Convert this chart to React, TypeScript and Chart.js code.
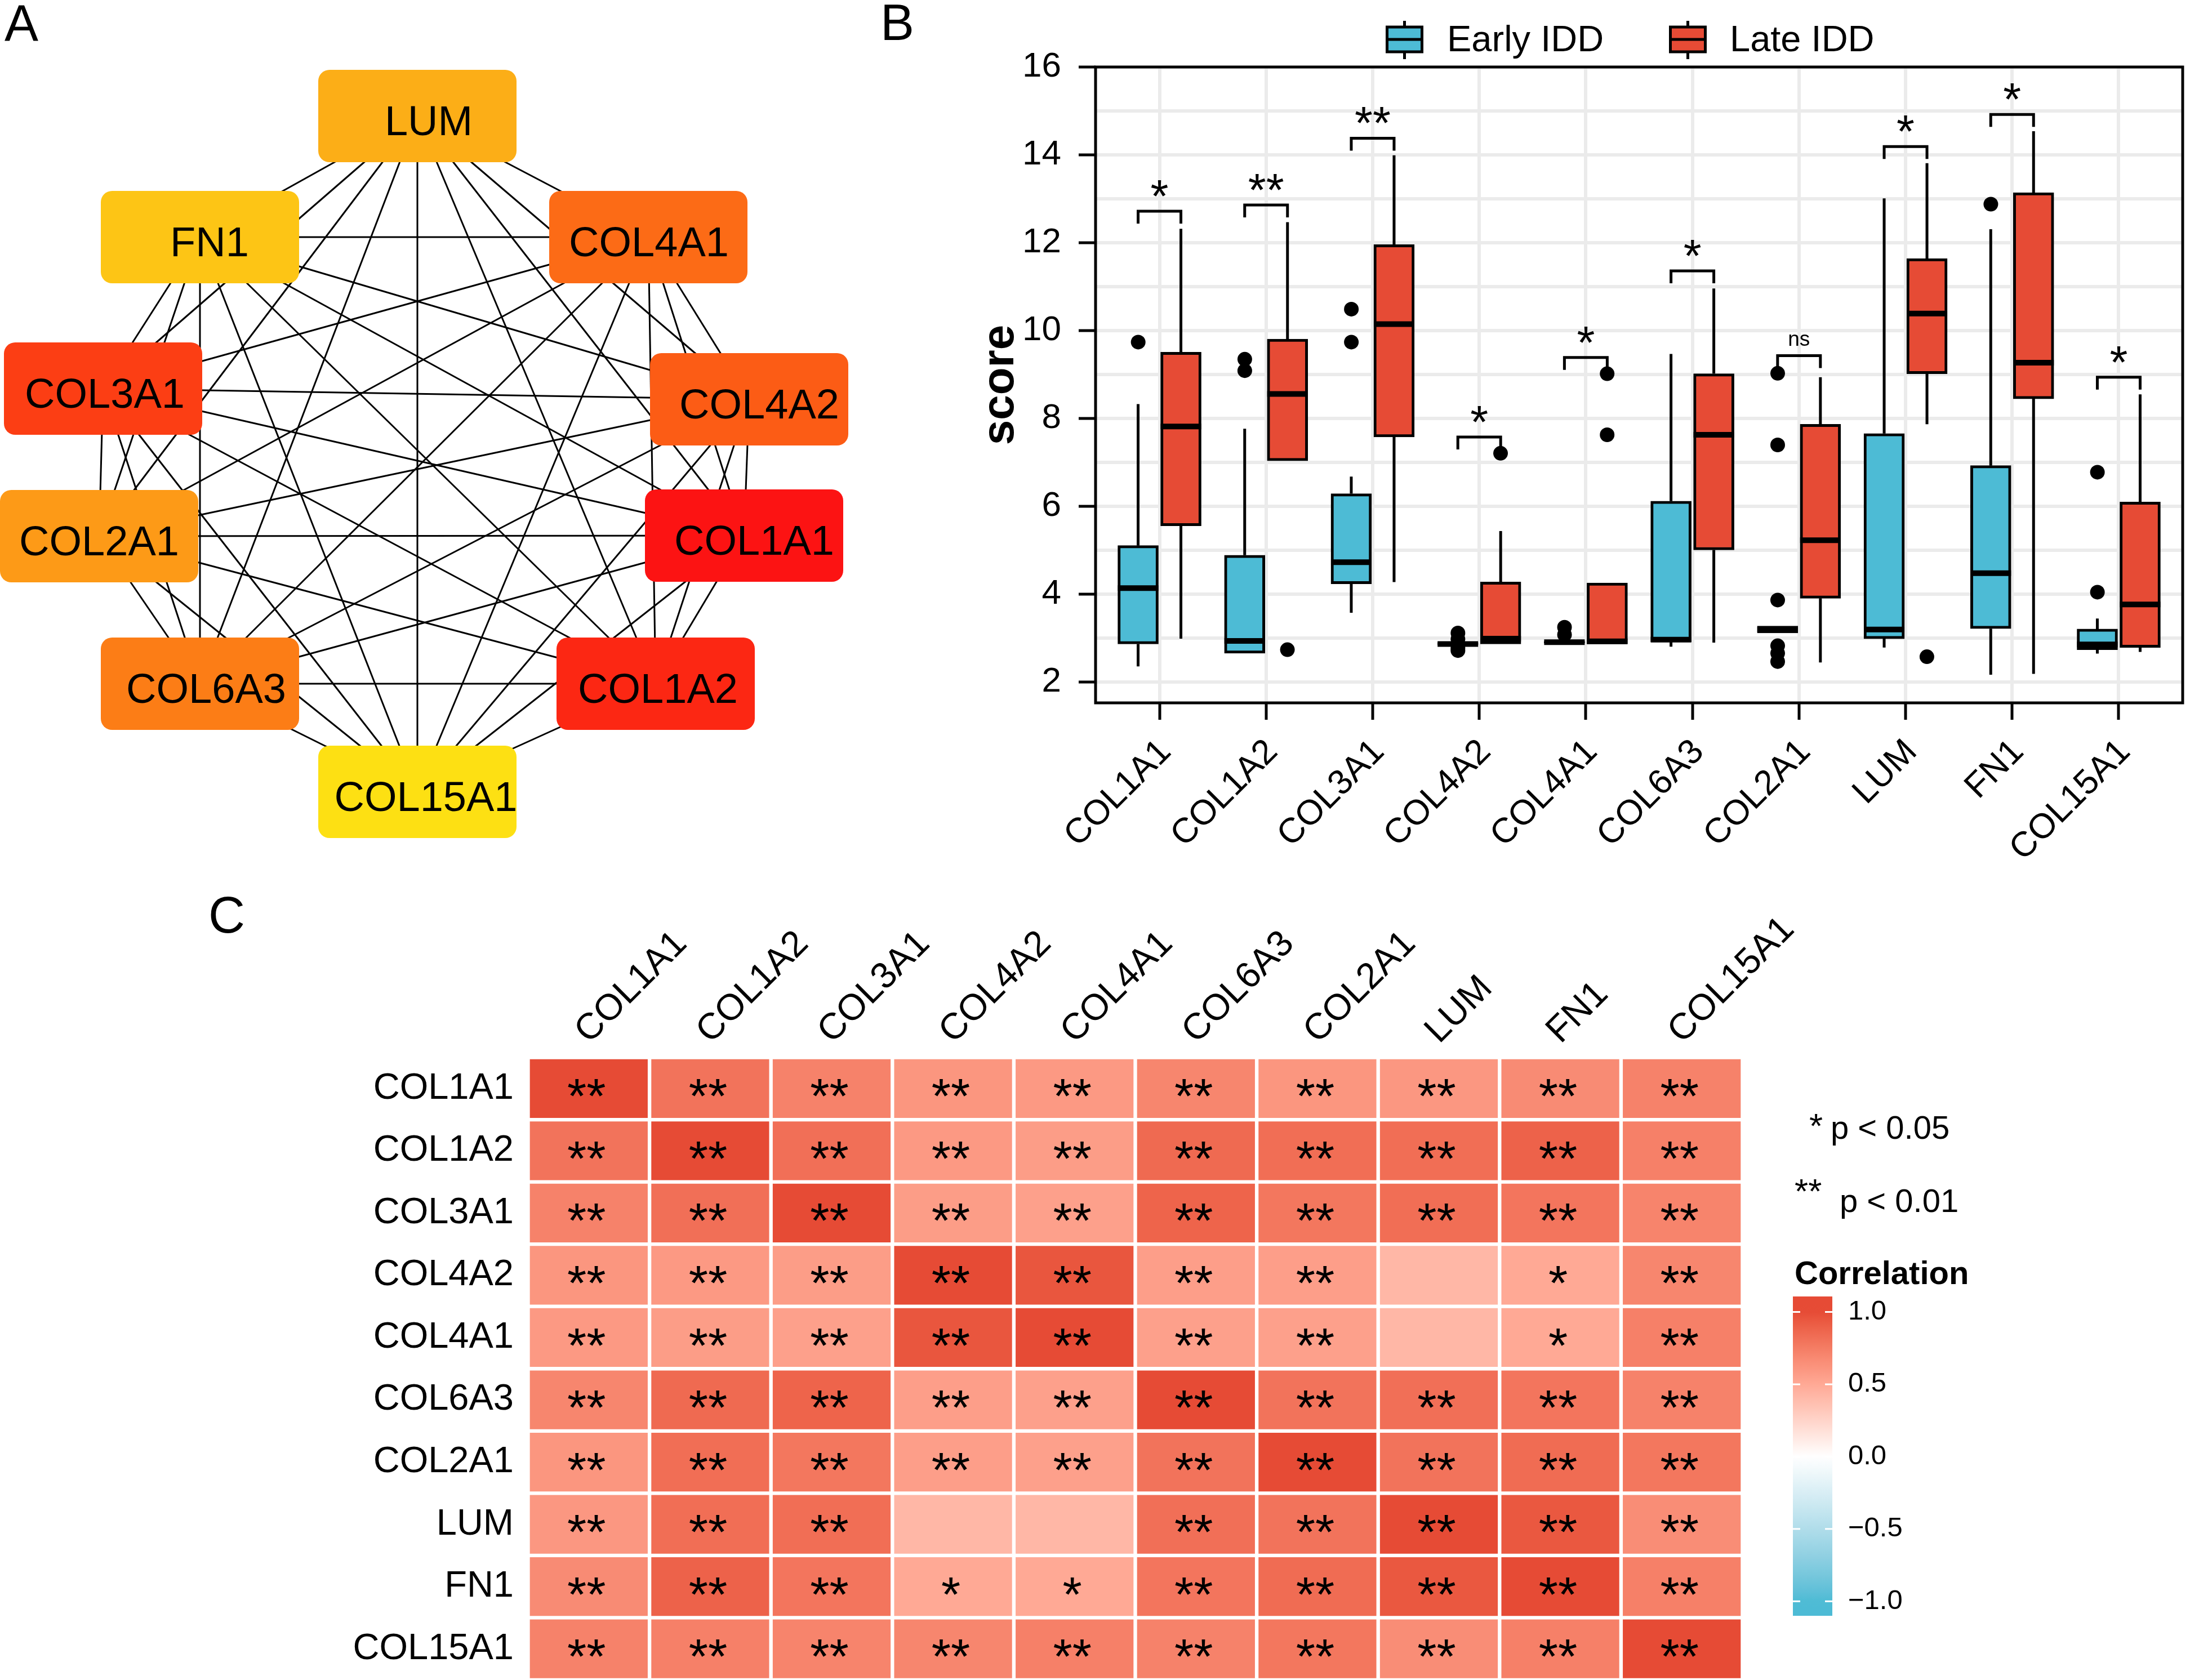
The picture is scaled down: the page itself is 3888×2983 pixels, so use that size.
import React, { useEffect, useRef } from "react";
import { Chart, registerables } from "chart.js";

Chart.register(...registerables);

const FONT = '"Liberation Sans", Arial, Helvetica, sans-serif';
const f = (size: number, bold = false) => `${bold ? "bold " : ""}${size}px ${FONT}`;

/* ================= Panel A : interaction network ================= */
const nodeNames = ["LUM", "FN1", "COL4A1", "COL3A1", "COL4A2", "COL2A1", "COL1A1", "COL6A3", "COL1A2", "COL15A1"];
const nodeLayoutX = [741, 355, 1151, 183, 1330, 176, 1321, 355, 1164, 741];
const nodeLayoutY = [206, 421, 421, 690, 709, 952, 951, 1214, 1214, 1406];
const nodeFill = ["#FCAE17", "#FDC515", "#FC6B16", "#FC3E14", "#FC5C15", "#FD9A17", "#FC1313", "#FC7D16", "#FC2713", "#FDE013"];
const networkEdges: [string, string][] = [
  ["LUM", "FN1"], ["LUM", "COL4A1"], ["LUM", "COL3A1"], ["LUM", "COL4A2"], ["LUM", "COL2A1"], ["LUM", "COL1A1"], ["LUM", "COL6A3"], ["LUM", "COL1A2"], ["LUM", "COL15A1"],
  ["FN1", "COL4A1"], ["FN1", "COL3A1"], ["FN1", "COL4A2"], ["FN1", "COL2A1"], ["FN1", "COL1A1"], ["FN1", "COL6A3"], ["FN1", "COL1A2"], ["FN1", "COL15A1"],
  ["COL4A1", "COL3A1"], ["COL4A1", "COL4A2"], ["COL4A1", "COL2A1"], ["COL4A1", "COL1A1"], ["COL4A1", "COL6A3"], ["COL4A1", "COL1A2"], ["COL4A1", "COL15A1"],
  ["COL3A1", "COL4A2"], ["COL3A1", "COL2A1"], ["COL3A1", "COL1A1"], ["COL3A1", "COL6A3"], ["COL3A1", "COL1A2"], ["COL3A1", "COL15A1"],
  ["COL4A2", "COL2A1"], ["COL4A2", "COL1A1"], ["COL4A2", "COL6A3"], ["COL4A2", "COL1A2"], ["COL4A2", "COL15A1"],
  ["COL2A1", "COL1A1"], ["COL2A1", "COL6A3"], ["COL2A1", "COL1A2"], ["COL2A1", "COL15A1"],
  ["COL1A1", "COL6A3"], ["COL1A1", "COL1A2"], ["COL1A1", "COL15A1"],
  ["COL6A3", "COL1A2"], ["COL6A3", "COL15A1"],
  ["COL1A2", "COL15A1"],
];

/* ================= Panel B : boxplots ================= */
const boxGenes = ["COL1A1", "COL1A2", "COL3A1", "COL4A2", "COL4A1", "COL6A3", "COL2A1", "LUM", "FN1", "COL15A1"];
const groupNames = ["Early IDD", "Late IDD"];
const groupFill = ["#4DBBD5", "#E64B35"];

const earlyWhiskerLow = [2.36, 2.66, 3.58, 2.85, 2.89, 2.81, 3.12, 2.79, 2.17, 2.65];
const earlyQ1 = [2.87, 2.66, 4.24, 2.85, 2.89, 2.92, 3.12, 2.99, 3.22, 2.74];
const earlyMedian = [4.14, 2.94, 4.73, 2.87, 2.91, 2.97, 3.2, 3.2, 4.48, 2.86];
const earlyQ3 = [5.11, 4.89, 6.29, 2.9, 2.93, 6.12, 3.28, 7.66, 6.93, 3.21];
const earlyWhiskerHigh = [8.33, 7.77, 6.68, 2.9, 2.93, 9.47, 3.28, 13.01, 12.31, 3.45];
const earlyOutliers = [[9.74], [9.35, 9.09], [10.49, 9.74], [3.12, 2.98, 2.78, 2.72], [3.25, 3.08], [], [9.03, 7.4, 3.87, 2.83, 2.66, 2.47], [], [12.88], [6.78, 4.05]];

const lateWhiskerLow = [2.99, 7.04, 4.28, 2.87, 2.87, 2.9, 2.45, 7.87, 2.19, 2.69];
const lateQ1 = [5.56, 7.04, 7.58, 2.87, 2.87, 5.01, 3.91, 9.02, 8.45, 2.79];
const lateMedian = [7.82, 8.56, 10.15, 2.99, 2.93, 7.63, 5.23, 10.39, 9.27, 3.77];
const lateQ3 = [9.51, 9.81, 11.96, 4.28, 4.26, 9.02, 7.87, 11.64, 13.14, 6.1];
const lateWhiskerHigh = [12.32, 12.47, 13.99, 5.44, 4.26, 10.96, 8.94, 13.81, 14.54, 8.55];
const lateOutliers = [[], [2.74], [], [7.21], [9.02, 7.63], [], [], [2.58], [], []];

const bracketY = [12.72, 12.86, 14.38, 7.58, 9.39, 11.36, 9.43, 14.19, 14.92, 8.94];
const bracketLabel = ["*", "**", "**", "*", "*", "*", "ns", "*", "*", "*"];
const yMajorTicks = [2, 4, 6, 8, 10, 12, 14, 16];
const yMinorTicks = [3, 5, 7, 9, 11, 13, 15];
const DODGE = 0.2;

/* ================= Panel C : correlation heatmap ================= */
const corrGenes = ["COL1A1", "COL1A2", "COL3A1", "COL4A2", "COL4A1", "COL6A3", "COL2A1", "LUM", "FN1", "COL15A1"];
const corrRows = [
  [1.0, 0.8, 0.72, 0.61, 0.59, 0.7, 0.61, 0.6, 0.67, 0.72],
  [0.8, 1.0, 0.82, 0.59, 0.57, 0.85, 0.83, 0.83, 0.89, 0.73],
  [0.72, 0.82, 1.0, 0.57, 0.55, 0.88, 0.78, 0.83, 0.79, 0.71],
  [0.61, 0.59, 0.57, 1.0, 0.95, 0.56, 0.56, 0.42, 0.5, 0.7],
  [0.59, 0.57, 0.55, 0.95, 1.0, 0.55, 0.55, 0.42, 0.5, 0.73],
  [0.7, 0.85, 0.88, 0.56, 0.55, 1.0, 0.8, 0.82, 0.79, 0.72],
  [0.61, 0.83, 0.78, 0.56, 0.55, 0.8, 1.0, 0.8, 0.84, 0.78],
  [0.6, 0.83, 0.83, 0.42, 0.42, 0.82, 0.8, 1.0, 0.94, 0.66],
  [0.67, 0.89, 0.79, 0.5, 0.5, 0.79, 0.84, 0.94, 1.0, 0.73],
  [0.72, 0.73, 0.71, 0.7, 0.73, 0.72, 0.78, 0.66, 0.73, 1.0],
];
const S2 = "**";
const sigRows = [
  [S2, S2, S2, S2, S2, S2, S2, S2, S2, S2],
  [S2, S2, S2, S2, S2, S2, S2, S2, S2, S2],
  [S2, S2, S2, S2, S2, S2, S2, S2, S2, S2],
  [S2, S2, S2, S2, S2, S2, S2, "", "*", S2],
  [S2, S2, S2, S2, S2, S2, S2, "", "*", S2],
  [S2, S2, S2, S2, S2, S2, S2, S2, S2, S2],
  [S2, S2, S2, S2, S2, S2, S2, S2, S2, S2],
  [S2, S2, S2, "", "", S2, S2, S2, S2, S2],
  [S2, S2, S2, "*", "*", S2, S2, S2, S2, S2],
  [S2, S2, S2, S2, S2, S2, S2, S2, S2, S2],
];
const colorbarTicks = [1, 0.5, 0, -0.5, -1];
const colorbarLabels = ["1.0", "0.5", "0.0", "\u22120.5", "\u22121.0"];
const sigLegend = [
  ["*", "p < 0.05"],
  ["**", "p < 0.01"],
];
const LOW = "#4DBBD5";
const MID = "#FFFFFF";
const HIGH = "#E64B35";

/* ---------- Lab colour interpolation (as ggplot gradient2) ---------- */
const WX = 0.95047, WY = 1.0, WZ = 1.08883;
function hexToRgb(hex: string) {
  const h = hex.replace("#", "");
  return [0, 2, 4].map((i) => parseInt(h.slice(i, i + 2), 16));
}
function toLin(c: number) {
  c /= 255;
  return c <= 0.04045 ? c / 12.92 : Math.pow((c + 0.055) / 1.055, 2.4);
}
function fromLin(c: number) {
  const v = c <= 0.0031308 ? 12.92 * c : 1.055 * Math.pow(Math.max(c, 0), 1 / 2.4) - 0.055;
  return Math.round(Math.min(1, Math.max(0, v)) * 255);
}
function rgbToLab(rgb: number[]) {
  const [r, g, b] = rgb.map(toLin);
  const X = (0.4124 * r + 0.3576 * g + 0.1805 * b) / WX;
  const Y = (0.2126 * r + 0.7152 * g + 0.0722 * b) / WY;
  const Z = (0.0193 * r + 0.1192 * g + 0.9505 * b) / WZ;
  const ff = (t: number) => (t > 216 / 24389 ? Math.cbrt(t) : ((24389 / 27) * t + 16) / 116);
  const fx = ff(X), fy = ff(Y), fz = ff(Z);
  return [116 * fy - 16, 500 * (fx - fy), 200 * (fy - fz)];
}
function labToRgb(lab: number[]) {
  const [L, a, b] = lab;
  const fy = (L + 16) / 116, fx = fy + a / 500, fz = fy - b / 200;
  const inv = (t: number) => (t * t * t > 216 / 24389 ? t * t * t : (116 * t - 16) / (24389 / 27));
  const X = inv(fx) * WX, Y = inv(fy) * WY, Z = inv(fz) * WZ;
  const r = 3.2406 * X - 1.5372 * Y - 0.4986 * Z;
  const g = -0.9689 * X + 1.8758 * Y + 0.0415 * Z;
  const bb = 0.0557 * X - 0.204 * Y + 1.057 * Z;
  return [fromLin(r), fromLin(g), fromLin(bb)];
}
const labLow = rgbToLab(hexToRgb(LOW));
const labMid = rgbToLab(hexToRgb(MID));
const labHigh = rgbToLab(hexToRgb(HIGH));
function corrColor(v: number) {
  const t = Math.max(-1, Math.min(1, v));
  const end = t >= 0 ? labHigh : labLow;
  const k = Math.abs(t);
  const lab = labMid.map((m, i) => m + (end[i] - m) * k);
  const [r, g, b] = labToRgb(lab);
  return `rgb(${r},${g},${b})`;
}

/* ================= chart builders ================= */
function makeNetwork(canvas: HTMLCanvasElement) {
  const idx = (n: string) => nodeNames.indexOf(n);
  const edgeSets = networkEdges.map(([a, b]) => ({
    type: "scatter",
    showLine: true,
    data: [
      { x: nodeLayoutX[idx(a)], y: nodeLayoutY[idx(a)] },
      { x: nodeLayoutX[idx(b)], y: nodeLayoutY[idx(b)] },
    ],
    borderColor: "#000000",
    borderWidth: 3,
    pointRadius: 0,
    fill: false,
  }));
  const nodeSet = {
    type: "scatter",
    data: nodeNames.map((_, i) => ({ x: nodeLayoutX[i], y: nodeLayoutY[i] })),
    pointRadius: 0,
    showLine: false,
  };
  // horizontal nudges of the node captions (as rendered by the network tool)
  const captionNudge = [20, 17, 1, 3, 18, 0, 18, 11, 4, 15];
  const nodePlugin = {
    id: "nodes",
    afterDatasetsDraw(chart: any) {
      const ctx = chart.ctx;
      const meta = chart.getDatasetMeta(chart.data.datasets.length - 1);
      const W = 352, H = 164;
      nodeNames.forEach((name, i) => {
        const el = meta.data[i];
        ctx.save();
        ctx.fillStyle = nodeFill[i];
        ctx.beginPath();
        ctx.roundRect(el.x - W / 2, el.y - H / 2, W, H, 20);
        ctx.fill();
        ctx.fillStyle = "#000";
        ctx.font = f(74);
        ctx.textAlign = "center";
        ctx.textBaseline = "alphabetic";
        ctx.fillText(name, el.x + captionNudge[i], el.y + 34);
        ctx.restore();
      });
      ctx.save();
      ctx.fillStyle = "#000";
      ctx.font = f(90);
      ctx.textAlign = "left";
      ctx.textBaseline = "alphabetic";
      ctx.fillText("A", 8, 72);
      ctx.restore();
    },
  };
  return new Chart(canvas, {
    type: "scatter",
    data: { datasets: [...edgeSets, nodeSet] as any },
    options: {
      responsive: false,
      animation: false,
      devicePixelRatio: 1,
      events: [],
      layout: { padding: 0 },
      plugins: { legend: { display: false }, tooltip: { enabled: false } },
      scales: {
        x: { type: "linear", min: 0, max: 1540, display: false },
        y: { type: "linear", min: 0, max: 1540, reverse: true, display: false },
      },
    } as any,
    plugins: [nodePlugin],
  });
}

function makeBoxplot(canvas: HTMLCanvasElement) {
  const outlierPts: { x: number; y: number }[] = [];
  boxGenes.forEach((_, i) => {
    earlyOutliers[i].forEach((v) => outlierPts.push({ x: i - DODGE, y: v }));
    lateOutliers[i].forEach((v) => outlierPts.push({ x: i + DODGE, y: v }));
  });
  const groups = [
    { lo: earlyWhiskerLow, q1: earlyQ1, med: earlyMedian, q3: earlyQ3, hi: earlyWhiskerHigh },
    { lo: lateWhiskerLow, q1: lateQ1, med: lateMedian, q3: lateQ3, hi: lateWhiskerHigh },
  ];
  const barSet = (g: number) => ({
    type: "bar",
    label: groupNames[g],
    data: boxGenes.map((_, i) => ({ x: i, y: [groups[g].q1[i], groups[g].q3[i]] })),
    backgroundColor: groupFill[g],
    borderColor: "#000000",
    borderWidth: 5,
    borderSkipped: false,
    barThickness: 76,
    maxBarThickness: 72,
    grouped: true,
  });

  const decor = {
    id: "boxDecor",
    beforeDatasetsDraw(chart: any) {
      const ctx = chart.ctx;
      const ys = chart.scales.y;
      ctx.save();
      ctx.strokeStyle = "#000";
      ctx.lineWidth = 5;
      groups.forEach((g, gi) => {
        const meta = chart.getDatasetMeta(gi + 1);
        boxGenes.forEach((_, i) => {
          const x = meta.data[i].x;
          ctx.beginPath();
          ctx.moveTo(x, ys.getPixelForValue(g.lo[i]));
          ctx.lineTo(x, ys.getPixelForValue(g.q1[i]));
          ctx.moveTo(x, ys.getPixelForValue(g.q3[i]));
          ctx.lineTo(x, ys.getPixelForValue(g.hi[i]));
          ctx.stroke();
        });
      });
      ctx.restore();
    },
    afterDatasetsDraw(chart: any) {
      const ctx = chart.ctx;
      const ys = chart.scales.y;
      const ca = chart.chartArea;
      ctx.save();
      ctx.strokeStyle = "#000";
      ctx.lineWidth = 10;
      groups.forEach((g, gi) => {
        const meta = chart.getDatasetMeta(gi + 1);
        boxGenes.forEach((_, i) => {
          const el = meta.data[i];
          const y = ys.getPixelForValue(g.med[i]);
          ctx.beginPath();
          ctx.moveTo(el.x - el.width / 2, y);
          ctx.lineTo(el.x + el.width / 2, y);
          ctx.stroke();
        });
      });
      ctx.lineWidth = 5;
      const mE = chart.getDatasetMeta(1);
      const mL = chart.getDatasetMeta(2);
      boxGenes.forEach((_, i) => {
        const xl = mE.data[i].x;
        const xr = mL.data[i].x;
        const yb = ys.getPixelForValue(bracketY[i]);
        ctx.beginPath();
        ctx.moveTo(xl, yb + 22);
        ctx.lineTo(xl, yb);
        ctx.lineTo(xr, yb);
        ctx.lineTo(xr, yb + 22);
        ctx.stroke();
        ctx.fillStyle = "#000";
        ctx.textAlign = "center";
        ctx.textBaseline = "alphabetic";
        if (bracketLabel[i] === "ns") {
          ctx.font = f(37);
          ctx.fillText("ns", (xl + xr) / 2, yb - 18);
        } else {
          ctx.font = f(82);
          ctx.fillText(bracketLabel[i], (xl + xr) / 2, yb + 1);
        }
      });
      ctx.lineWidth = 5;
      ctx.strokeRect(ca.left, ca.top, ca.right - ca.left, ca.bottom - ca.top);
      ctx.restore();
    },
    afterDraw(chart: any) {
      const ctx = chart.ctx;
      const ca = chart.chartArea;
      ctx.save();
      ctx.fillStyle = "#000";
      ctx.save();
      ctx.translate(259, (ca.top + ca.bottom) / 2);
      ctx.rotate(-Math.PI / 2);
      ctx.font = f(80, true);
      ctx.textAlign = "center";
      ctx.textBaseline = "alphabetic";
      ctx.fillText("score", 0, 0);
      ctx.restore();
      const legendIcon = [953.5, 1456.5];
      const legendText = [1029, 1531];
      groupNames.forEach((name, g) => {
        const cx = legendIcon[g];
        ctx.strokeStyle = "#000";
        ctx.lineWidth = 5;
        ctx.beginPath();
        ctx.moveTo(cx, 37);
        ctx.lineTo(cx, 105);
        ctx.stroke();
        ctx.fillStyle = groupFill[g];
        ctx.fillRect(cx - 31, 48, 62, 44);
        ctx.strokeRect(cx - 31, 48, 62, 44);
        ctx.beginPath();
        ctx.moveTo(cx - 31, 70);
        ctx.lineTo(cx + 31, 70);
        ctx.stroke();
        ctx.fillStyle = "#000";
        ctx.font = f(65);
        ctx.textAlign = "left";
        ctx.textBaseline = "alphabetic";
        ctx.fillText(name, legendText[g], 91);
      });
      ctx.font = f(90);
      ctx.fillText("B", 23, 71);
      ctx.restore();
    },
  };

  return new Chart(canvas, {
    type: "bar",
    data: {
      datasets: [
        {
          type: "scatter",
          data: outlierPts,
          pointRadius: 13,
          pointBackgroundColor: "#000",
          pointBorderWidth: 0,
          showLine: false,
        },
        barSet(0),
        barSet(1),
      ] as any,
    },
    options: {
      responsive: false,
      animation: false,
      devicePixelRatio: 1,
      events: [],
      layout: { padding: { top: 119, right: 6, bottom: 0, left: 0 } },
      plugins: { legend: { display: false }, tooltip: { enabled: false } },
      scales: {
        x: {
          type: "linear",
          min: -0.6,
          max: 9.6,
          offset: false,
          afterBuildTicks: (s: any) => {
            s.ticks = boxGenes.map((_, i) => ({ value: i }));
          },
          afterFit: (s: any) => {
            s.height = 292;
          },
          grid: { color: "#EBEBEB", lineWidth: 6, drawTicks: true, tickLength: 30, tickColor: "#000", tickWidth: 5, offset: false },
          border: { display: false },
          ticks: {
            autoSkip: false,
            minRotation: 45,
            maxRotation: 45,
            padding: 21,
            labelOffset: 11,
            color: "#000",
            font: { family: FONT, size: 62 },
            callback: (v: any) => boxGenes[v] ?? "",
          },
        },
        y: {
          type: "linear",
          min: 1.53,
          max: 16,
          beginAtZero: false,
          afterBuildTicks: (s: any) => {
            s.ticks = [...yMajorTicks, ...yMinorTicks].sort((a, b) => a - b).map((v) => ({ value: v }));
          },
          afterFit: (s: any) => {
            s.width = 405;
          },
          grid: {
            color: "#EBEBEB",
            lineWidth: 6,
            drawTicks: true,
            tickLength: 30,
            tickWidth: 5,
            tickColor: (c: any) => (yMajorTicks.includes(c.tick?.value) ? "#000" : "rgba(0,0,0,0)"),
          },
          border: { display: false },
          ticks: {
            padding: 31,
            color: "#000",
            font: { family: FONT, size: 62 },
            callback: (v: any) => (yMajorTicks.includes(v) ? String(v) : ""),
          },
        },
      },
    } as any,
    plugins: [decor],
  });
}

function makeHeatmap(canvas: HTMLCanvasElement) {
  const datasets = corrGenes.map((_, r) => ({
    type: "bar",
    data: corrGenes.map((__, c) => ({ x: c, y: [r - 0.5, r + 0.5] })),
    backgroundColor: corrRows[r].map(corrColor),
    borderColor: "#FFFFFF",
    borderWidth: 3.5,
    borderSkipped: false,
    grouped: false,
    barPercentage: 1,
    categoryPercentage: 1,
  }));
  const TOP = 1540; // canvas offset on page
  const decor = {
    id: "heatDecor",
    afterDatasetsDraw(chart: any) {
      const ctx = chart.ctx;
      ctx.save();
      ctx.fillStyle = "#000";
      ctx.textAlign = "center";
      ctx.textBaseline = "alphabetic";
      const size = 88;
      ctx.font = f(size);
      corrGenes.forEach((_, r) => {
        const meta = chart.getDatasetMeta(r);
        corrGenes.forEach((__, c) => {
          const el = meta.data[c];
          const cy = (el.y + el.base) / 2;
          if (sigRows[r][c]) ctx.fillText(sigRows[r][c], el.x - 4, cy + 0.575 * size - 7);
        });
      });
      ctx.restore();
    },
    afterDraw(chart: any) {
      const ctx = chart.ctx;
      ctx.save();
      ctx.fillStyle = "#000";
      ctx.textAlign = "left";
      ctx.textBaseline = "alphabetic";
      ctx.font = f(90);
      ctx.fillText("C", 370, 1656 - TOP);
      const starX = [3212, 3186];
      const starY = [2020, 2136];
      const txtX = [3250, 3266];
      const txtY = [2022, 2152];
      sigLegend.forEach(([s, t], k) => {
        ctx.font = f(62);
        ctx.fillText(s, starX[k], starY[k] - TOP);
        ctx.font = f(58);
        ctx.fillText(t, txtX[k], txtY[k] - TOP);
      });
      ctx.font = f(58, true);
      ctx.fillText("Correlation", 3186, 2280 - TOP);
      const bx = 3183, bw = 70, bTop = 2302 - TOP, bBot = 2869 - TOP;
      const vTop = 1.107, vBot = -1.1;
      const pix = (v: number) => bTop + ((vTop - v) / (vTop - vBot)) * (bBot - bTop);
      const grad = ctx.createLinearGradient(0, bTop, 0, bBot);
      for (let k = 0; k <= 40; k++) {
        const v = vTop - ((vTop - vBot) * k) / 40;
        grad.addColorStop(k / 40, corrColor(v));
      }
      ctx.fillStyle = grad;
      ctx.fillRect(bx, bTop, bw, bBot - bTop);
      ctx.strokeStyle = "#FFFFFF";
      ctx.lineWidth = 3;
      ctx.fillStyle = "#000";
      ctx.font = f(49);
      ctx.textBaseline = "middle";
      colorbarTicks.forEach((v, k) => {
        const y = pix(v);
        ctx.beginPath();
        ctx.moveTo(bx, y);
        ctx.lineTo(bx + 13, y);
        ctx.moveTo(bx + bw - 13, y);
        ctx.lineTo(bx + bw, y);
        ctx.stroke();
        ctx.fillText(colorbarLabels[k], 3281, y);
      });
      ctx.restore();
    },
  };
  return new Chart(canvas, {
    type: "bar",
    data: { datasets: datasets as any },
    options: {
      responsive: false,
      animation: false,
      devicePixelRatio: 1,
      events: [],
      layout: { padding: { top: 0, right: 3888 - 3093.5, bottom: 0, left: 0 } },
      plugins: { legend: { display: false }, tooltip: { enabled: false } },
      scales: {
        x: {
          type: "linear",
          position: "top",
          min: -0.5,
          max: 9.5,
          offset: false,
          afterBuildTicks: (s: any) => {
            s.ticks = corrGenes.map((_, i) => ({ value: i }));
          },
          afterFit: (s: any) => {
            s.height = 337.5;
            s.paddingLeft = 0;
            s.paddingRight = 0;
          },
          grid: { display: false, offset: false },
          border: { display: false },
          ticks: {
            autoSkip: false,
            minRotation: 45,
            maxRotation: 45,
            padding: 0,
            labelOffset: 43,
            color: "#000",
            font: { family: FONT, size: 65 },
            callback: (v: any) => corrGenes[v] ?? "",
          },
        },
        y: {
          type: "linear",
          min: -0.5,
          max: 9.5,
          reverse: true,
          beginAtZero: false,
          afterBuildTicks: (s: any) => {
            s.ticks = corrGenes.map((_, i) => ({ value: i }));
          },
          afterFit: (s: any) => {
            s.width = 937.5;
            s.paddingTop = 0;
            s.paddingBottom = 0;
          },
          grid: { display: false },
          border: { display: false },
          ticks: {
            padding: 17.5,
            color: "#000",
            font: { family: FONT, size: 65 },
            callback: (v: any) => corrGenes[v] ?? "",
          },
        },
      },
    } as any,
    plugins: [decor],
  });
}

export default function App() {
  const refA = useRef<HTMLCanvasElement>(null);
  const refB = useRef<HTMLCanvasElement>(null);
  const refC = useRef<HTMLCanvasElement>(null);
  useEffect(() => {
    const charts: Chart[] = [];
    if (refA.current) charts.push(makeNetwork(refA.current));
    if (refB.current) charts.push(makeBoxplot(refB.current));
    if (refC.current) charts.push(makeHeatmap(refC.current));
    return () => charts.forEach((c) => c.destroy());
  }, []);
  const abs = (l: number, t: number, w: number, h: number): React.CSSProperties => ({
    position: "absolute",
    left: l,
    top: t,
    width: w,
    height: h,
  });
  return (
    <div style={{ position: "absolute", left: 0, top: 0, width: 3888, height: 2983, background: "#FFFFFF", overflow: "hidden" }}>
      <canvas ref={refA} width={1540} height={1540} style={abs(0, 0, 1540, 1540)} />
      <canvas ref={refB} width={2348} height={1540} style={abs(1540, 0, 2348, 1540)} />
      <canvas ref={refC} width={3888} height={1443} style={abs(0, 1540, 3888, 1443)} />
    </div>
  );
}
